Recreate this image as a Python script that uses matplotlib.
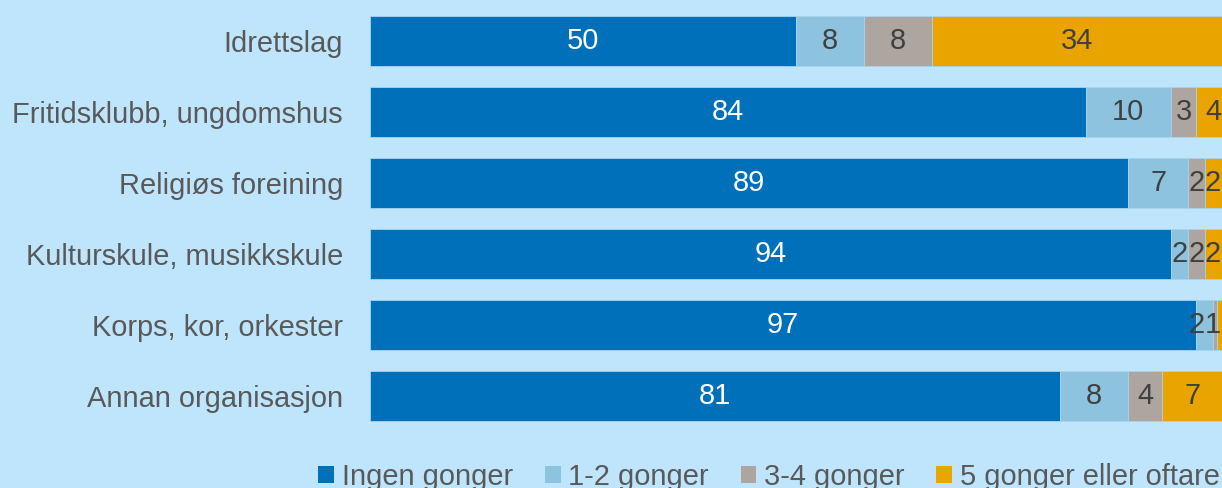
import matplotlib
matplotlib.use("Agg")
import matplotlib.pyplot as plt
from matplotlib.patches import Patch

plt.rcParams['font.family'] = ['Liberation Sans', 'DejaVu Sans']

categories = ["Idrettslag", "Fritidsklubb, ungdomshus", "Religiøs foreining",
              "Kulturskule, musikkskule", "Korps, kor, orkester", "Annan organisasjon"]
series_names = ["Ingen gonger", "1-2 gonger", "3-4 gonger", "5 gonger eller oftare"]
ingen = [50, 84, 89, 94, 97, 81]
en_to = [8, 10, 7, 2, 2, 8]
tre_fire = [8, 3, 2, 2, 0.4, 4]
fem_plus = [34, 4, 2, 2, 1, 7]
series = [ingen, en_to, tre_fire, fem_plus]

colors = ["#0070BA", "#8DC3DF", "#ADA6A0", "#E9A400"]
text_colors = ["white", "#404040", "#404040", "#404040"]
bg = "#BFE5FD"
FS = 20.9

W, H = 1222, 488
fig = plt.figure(figsize=(W / 100, H / 100), dpi=100, facecolor=bg)
ax = fig.add_axes([370 / W, (H - 431.5) / H, 852 / W, 426 / H])
ax.set_facecolor(bg)

# approximate width of one digit, in data units
px_per_unit = 852 / 100
digit_w = 0.556 * FS * 100 / 72 / px_per_unit

ypos = list(range(len(categories)))
left = [0] * len(categories)
labels = {y: [] for y in ypos}
for vals, col, tc in zip(series, colors, text_colors):
    bars = ax.barh(ypos, vals, left=left, height=0.70, color=col,
                   edgecolor="#A9D3EE", linewidth=0.6)
    for y, b, v in zip(ypos, bars, vals):
        if v >= 1:
            labels[y].append((b.get_x() + b.get_width() / 2, f"{v:g}", tc))
    left = [l + v for l, v in zip(left, vals)]

# place the value labels, nudging slim end segments so they stay readable
for y, items in labels.items():
    limit = 99.9
    for cx, txt, tc in reversed(items):
        w = digit_w * len(txt)
        right = min(cx + w / 2, limit)
        ax.text(right - w / 2, y, txt, ha="center", va="center",
                fontsize=FS, color=tc)
        limit = right - w

ax.set_xlim(0, 100)
ax.set_ylim(len(categories) - 0.5, -0.5)
ax.set_yticks(ypos)
ax.set_yticklabels(categories, fontsize=FS, color="#595959")
ax.tick_params(axis="y", length=0, pad=19.5)
ax.set_xticks([])
for s in ax.spines.values():
    s.set_visible(False)

handles = [Patch(facecolor=c, edgecolor="none") for c in colors]
fig.legend(handles, series_names, loc="lower left",
           bbox_to_anchor=(318 / W, -3 / H), ncol=4, frameon=False,
           fontsize=FS, labelcolor="#595959",
           handlelength=0.55, handleheight=0.55, handletextpad=0.26,
           columnspacing=1.1, borderpad=0, borderaxespad=0)

fig.savefig("out.png", dpi=100, facecolor=bg)
